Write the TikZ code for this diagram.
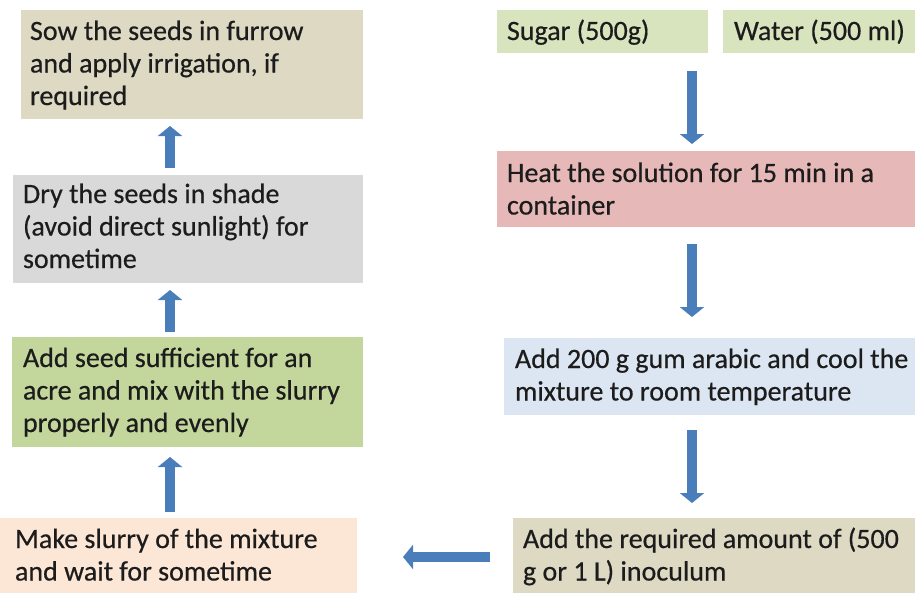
\documentclass[tikz,border=0pt]{standalone}
\usepackage{fontspec}
\setmainfont[FakeBold=0.5]{Carlito}
\usetikzlibrary{arrows.meta}
\definecolor{tanbox}{HTML}{DDD9C3}
\definecolor{greybox}{HTML}{D9D9D9}
\definecolor{olivebox}{HTML}{C3D69B}
\definecolor{peachbox}{HTML}{FCE6D6}
\definecolor{lgreenbox}{HTML}{D7E4BD}
\definecolor{pinkbox}{HTML}{E6B9B8}
\definecolor{bluebox}{HTML}{DCE6F2}
\definecolor{arrowblue}{HTML}{4A7EBB}
\definecolor{txtcol}{HTML}{1C1C1C}
\tikzset{
  box/.style={rectangle, inner sep=0pt, outer sep=0pt, anchor=north west, draw=none},
  txt/.style={anchor=base west, inner sep=0pt, outer sep=0pt, align=left, text=txtcol,
    font=\fontsize{28}{32.5}\selectfont},
  arr/.style={line width=10.5pt, draw=arrowblue, -{Triangle[width=24pt,length=10pt]}},
}
\begin{document}
\begin{tikzpicture}[x=1pt,y=-1pt]
\useasboundingbox (0,0) rectangle (915,592);
\clip (0,0) rectangle (915,592);
% left column boxes
\node[box, fill=tanbox, minimum width=342pt, minimum height=109pt] (sow) at (21,10) {};
\node[box, fill=greybox, minimum width=350pt, minimum height=108pt] (dry) at (13,175) {};
\node[box, fill=olivebox, minimum width=351pt, minimum height=110pt] (seed) at (12,337) {};
\node[box, fill=peachbox, minimum width=357pt, minimum height=80pt] (slurry) at (0,518) {};
% right column boxes
\node[box, fill=lgreenbox, minimum width=211pt, minimum height=43pt] (sugar) at (497,10) {};
\node[box, fill=lgreenbox, minimum width=200pt, minimum height=43pt] (water) at (723,10) {};
\node[box, fill=pinkbox, minimum width=425pt, minimum height=76pt] (heat) at (497,151) {};
\node[box, fill=bluebox, minimum width=420pt, minimum height=77pt] (gum) at (504,338) {};
\node[box, fill=tanbox, minimum width=410pt, minimum height=80pt] (inoc) at (513,518) {};
% texts (anchored at the baseline of their last line)
\node[txt] (sowt) at (30,105) {Sow the seeds in furrow\\and apply irrigation, if\\required};
\node[txt] (dryt) at (23,268) {Dry the seeds in shade\\(avoid direct sunlight) for\\sometime};
\node[txt] (seedt) at (23,432) {Add seed sufficient for an\\acre and mix with the slurry\\properly and evenly};
\node[txt] (slurryt) at (15,580.5) {Make slurry of the mixture\\and wait for sometime};
\node[txt] (sugart) at (507,40) {Sugar (500g)};
\node[txt] (watert) at (734,40) {Water (500 ml)};
\node[txt] (heatt) at (507,214.5) {Heat the solution for 15 min in a\\container};
\node[txt] (gumt) at (515,400.5) {Add 200 g gum arabic and cool the\\mixture to room temperature};
\node[txt] (inoct) at (523,580.5) {Add the required amount of (500\\g or 1 L) inoculum};
% arrow guides
\coordinate (lx) at (170,0);
\coordinate (rx) at (692,0);
\coordinate (hy) at (0,557);
% connectors
\draw[arr, shorten <=7pt, shorten >=7pt] (dry.north -| lx) -- (sow.south -| lx);
\draw[arr, shorten <=5pt, shorten >=7pt] (seed.north -| lx) -- (dry.south -| lx);
\draw[arr, shorten <=6pt, shorten >=10pt] (slurry.north -| lx) -- (seed.south -| lx);
\draw[arr, shorten <=18pt, shorten >=7pt] (sugar.south -| rx) -- (heat.north -| rx);
\draw[arr, shorten <=17pt, shorten >=21pt] (heat.south -| rx) -- (gum.north -| rx);
\draw[arr, shorten <=15pt, shorten >=15pt] (gum.south -| rx) -- (inoc.north -| rx);
\draw[arr, shorten <=23pt, shorten >=46pt] (inoc.west |- hy) -- (slurry.east |- hy);
\end{tikzpicture}
\end{document}
